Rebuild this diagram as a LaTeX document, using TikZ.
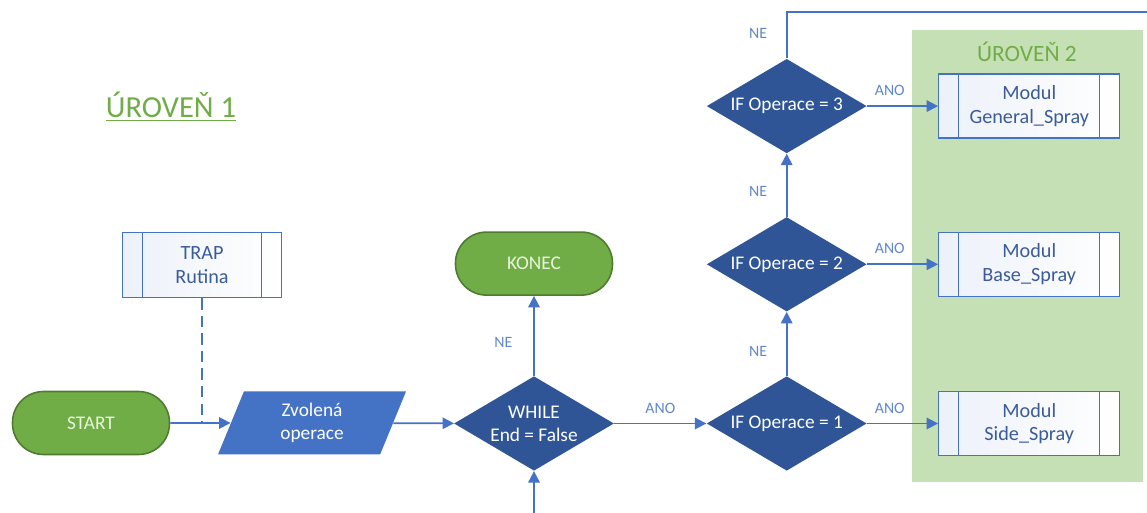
\documentclass[tikz,border=0pt]{standalone}
\usepackage{fontspec}
\setmainfont{Carlito}
\usepackage{xcolor}
\usetikzlibrary{positioning,shapes,arrows.meta}

\definecolor{offblue}{HTML}{4472C4}
\definecolor{darkblue}{HTML}{2F5597}
\definecolor{offgreen}{HTML}{70AD47}
\definecolor{darkgreen}{HTML}{4F7A30}
\definecolor{panelgreen}{HTML}{C5E0B4}
\definecolor{modtext}{HTML}{3B5C9A}
\definecolor{palegreen}{HTML}{E8F4DC}

\begin{document}
\begin{tikzpicture}[
  terminal/.style={rectangle, draw=darkgreen, line width=0.9pt, rounded corners=0.62cm, fill=offgreen, text=palegreen, font=\fontsize{11}{13}\selectfont, minimum width=3.14cm, minimum height=1.26cm},
  io/.style={trapezium, trapezium left angle=73, trapezium right angle=107, trapezium stretches=true, fill=offblue, text=white, align=center, font=\fontsize{11}{13}\selectfont, minimum width=3.78cm, minimum height=1.26cm, inner sep=0pt},
  decision/.style={diamond, aspect=1.7, fill=darkblue, text=white, align=center, font=\fontsize{11}{13}\selectfont, inner sep=0pt, minimum width=3.2cm, minimum height=1.89cm},
  module/.style={rectangle, draw=offblue, line width=0.8pt, left color=offblue!10, right color=white, align=center, text=modtext, font=\fontsize{11.5}{13.5}\selectfont, minimum width=3.62cm, minimum height=1.28cm,
    path picture={\draw[offblue, line width=0.8pt] ([xshift=0.4cm]path picture bounding box.north west) -- ([xshift=0.4cm]path picture bounding box.south west)
      ([xshift=-0.4cm]path picture bounding box.north east) -- ([xshift=-0.4cm]path picture bounding box.south east);}},
  lbl/.style={font=\fontsize{9}{10}\selectfont, text=offblue!85!white},
  arrow/.style={-{Triangle[length=6.5pt,width=6.5pt]}, line width=1pt, draw=offblue},
  link/.style={line width=1pt, draw=offblue}
]
  \useasboundingbox (0,0) rectangle (22.94,-10.26);

  % Level 2 panel
  \fill[panelgreen] (18.24,-0.60) rectangle (22.86,-9.64);
  \node[font=\fontsize{13.3}{15}\selectfont, text=offgreen] (lvl2) at (20.54,-1.04) {ÚROVEŇ 2};

  % Level 1 title
  \node[font=\fontsize{17.4}{20}\selectfont, text=offgreen] (lvl1) at (3.42,-2.14) {\underline{ÚROVEŇ 1}};

  % Main loop
  \node[terminal] (start) at (1.82,-8.46) {START};
  \node[module, minimum width=3.18cm, minimum height=1.3cm] (trap) at (4.04,-5.30) {TRAP\\Rutina};
  \node[io] (zvol) at (6.24,-8.46) {Zvolená\\operace};
  \node[decision] (loop) at (10.68,-8.47) {WHILE\\End = False};
  \node[terminal, above=1.6cm of loop] (konec) {KONEC};

  % Operation tests
  \node[decision, right=1.84cm of loop] (if1) {IF Operace = 1};
  \node[decision, above=1.28cm of if1] (if2) {IF Operace = 2};
  \node[decision, above=1.26cm of if2] (if3) {IF Operace = 3};

  % Modules
  \node[module, right=1.42cm of if1] (side) {Modul\\Side\_Spray};
  \node[module, right=1.42cm of if2] (base) {Modul\\Base\_Spray};
  \node[module, right=1.42cm of if3] (general) {Modul\\General\_Spray};

  \coordinate (exit) at (22.94,-0.24);
  \coordinate (entry) at (10.68,-10.26);

  % Connectors
  \draw[link, dashed, dash pattern=on 6.5pt off 3.5pt] (trap.south) -- (trap.south |- start.east);
  \draw[arrow] (start) -- (zvol);
  \draw[arrow] (zvol) -- (loop);
  \draw[arrow] (entry) -- (loop);
  \draw[arrow] (loop) -- node[lbl, pos=0.42, left=0.3cm] {NE} (konec);
  \draw[arrow] (loop) -- node[lbl, above=2pt] {ANO} (if1);
  \draw[arrow] (if1) -- node[lbl, pos=0.39, left=0.26cm] {NE} (if2);
  \draw[arrow] (if2) -- node[lbl, pos=0.4, left=0.26cm] {NE} (if3);
  \draw[link] (if3) |- node[lbl, pos=0.265, left=0.26cm] {NE} (exit);
  \draw[arrow] (if1) -- node[lbl, pos=0.32, above=2pt] {ANO} (side);
  \draw[arrow] (if2) -- node[lbl, pos=0.32, above=2pt] {ANO} (base);
  \draw[arrow] (if3) -- node[lbl, pos=0.32, above=2pt] {ANO} (general);
\end{tikzpicture}
\end{document}
